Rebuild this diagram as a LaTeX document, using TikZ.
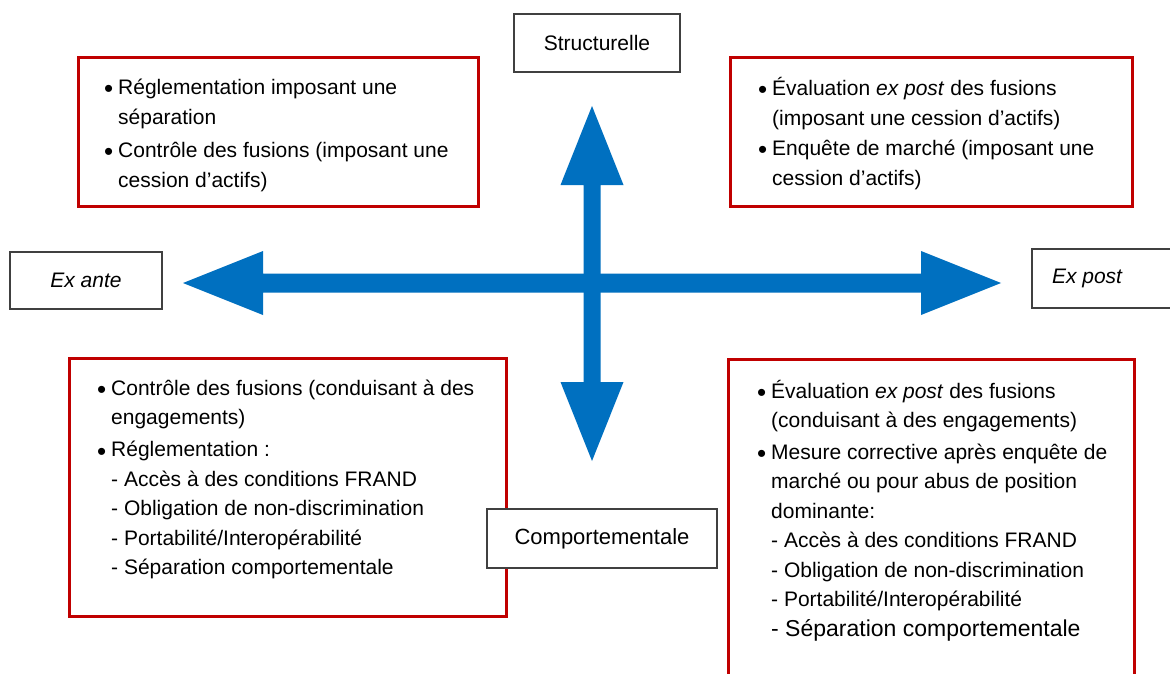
\documentclass[tikz,border=0pt]{standalone}
\usepackage{fontspec}
\setmainfont{Liberation Sans}
\definecolor{arrowblue}{HTML}{0070C0}
\definecolor{boxred}{HTML}{C00000}
\definecolor{boxgray}{HTML}{404040}
\newcommand{\itembul}{\llap{\raisebox{-3.5pt}{\fontsize{26}{30}\selectfont•}\hspace{5pt}}}
\begin{document}
\begin{tikzpicture}[x=1pt,y=-1pt,
  redbox/.style={draw=boxred,line width=3pt,fill=white,inner sep=0pt},
  labelbox/.style={draw=boxgray,line width=1.4pt,fill=white,inner sep=0pt,font=\fontsize{21}{25}\selectfont},
  txt/.style={anchor=north west,inner sep=0pt,align=left},
]
\useasboundingbox (0,0) rectangle (1170,674);
\clip (0,0) rectangle (1170,674);
\fill[white] (0,0) rectangle (1170,674);

% blue cross of double arrows
\coordinate (c) at (592,283);
\begin{scope}[shift={(c)}]
\fill[arrowblue] (-409,0) -- (-329,-32) -- (-329,-9.5) -- (329,-9.5) -- (329,-32) -- (409,0)
  -- (329,32) -- (329,9.5) -- (-329,9.5) -- (-329,32) -- cycle;
\fill[arrowblue] (0,-177) -- (31.5,-98) -- (8.5,-98) -- (8.5,99) -- (31.5,99) -- (0,178)
  -- (-31.5,99) -- (-8.5,99) -- (-8.5,-98) -- (-31.5,-98) -- cycle;
\end{scope}

% red boxes
\node[redbox,minimum width=400pt,minimum height=148pt] (tl) at (278,132) {};
\node[redbox,minimum width=402pt,minimum height=148pt] (tr) at (931,132) {};
\node[redbox,minimum width=437pt,minimum height=258pt] (bl) at (287.5,487) {};
\node[redbox,minimum width=406pt,minimum height=361pt] (br) at (931,539.5) {};

% texts in red boxes
\node[txt,font=\fontsize{21}{30}\selectfont] (tltext) at (118,73)
{\itembul\strut Réglementation imposant une\\
 \strut séparation\\[3pt]
 \itembul\strut Contrôle des fusions (imposant une\\
 \strut cession d’actifs)};

\node[txt,font=\fontsize{21}{30}\selectfont] (trtext) at (772,74)
{\itembul\strut Évaluation \textit{ex post} des fusions\\
 \strut (imposant une cession d’actifs)\\
 \itembul\strut Enquête de marché (imposant une\\
 \strut cession d’actifs)};

\node[txt,font=\fontsize{21}{29.5}\selectfont] (bltext) at (111,374.3)
{\itembul\strut Contrôle des fusions (conduisant à des\\
 \strut engagements)\\[2.5pt]
 \itembul\strut Réglementation :\\
 \strut - Accès à des conditions FRAND\\
 \strut - Obligation de non-discrimination\\
 \strut - Portabilité/Interopérabilité\\
 \strut - Séparation comportementale};

\node[txt,font=\fontsize{21}{29.5}\selectfont] (brtext) at (771,377.3)
{\itembul\strut Évaluation \textit{ex post} des fusions\\
 \strut (conduisant à des engagements)\\[2pt]
 \itembul\strut Mesure corrective après enquête de\\
 \strut marché ou pour abus de position\\
 \strut dominante:\\
 \strut - Accès à des conditions FRAND\\
 \strut - Obligation de non-discrimination\\
 \strut - Portabilité/Interopérabilité\\
 \strut {\fontsize{23}{29.5}\selectfont - Séparation comportementale}};

% gray label boxes
\node[labelbox,minimum width=166pt,minimum height=58pt] (struct) at (597,43) {Structurelle};
\node[labelbox,minimum width=152pt,minimum height=57pt] (exante) at (86,280.5) {\textit{Ex ante}};
\node[labelbox,minimum width=158pt,minimum height=59pt] (expost) at (1111,278.5)
  {\makebox[118pt][l]{\textit{Ex post}}};
\node[labelbox,minimum width=230pt,minimum height=59pt,font=\fontsize{22}{25}\selectfont] (comport) at (602,538.5) {Comportementale};
\end{tikzpicture}
\end{document}
